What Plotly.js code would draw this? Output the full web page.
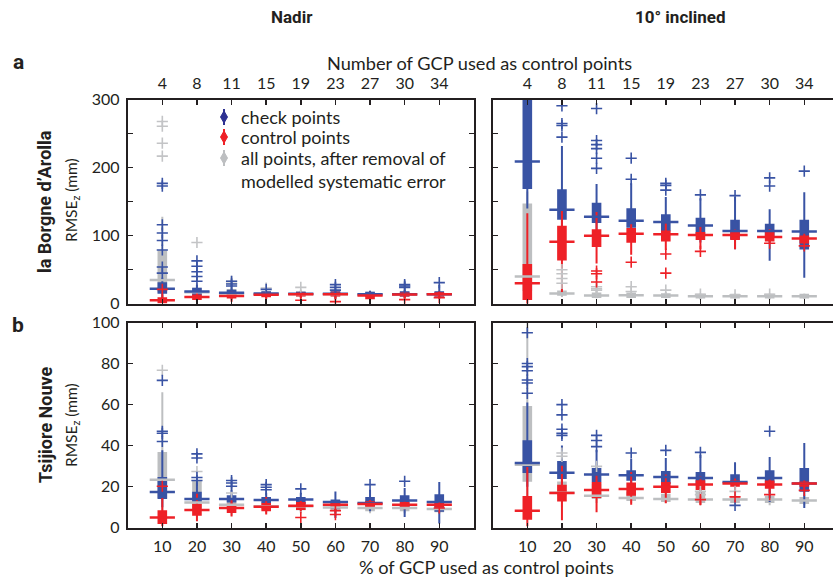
<!DOCTYPE html>
<html><head><meta charset="utf-8">
<script src="https://cdn.plot.ly/plotly-3.0.1.min.js"></script>
<style>html,body{margin:0;padding:0;overflow:hidden;background:#fff}#chart{width:845px;height:580px}</style>
</head><body><div id="chart"></div>
<script>
// ---------- DATA ----------
const categories = [10, 20, 30, 40, 50, 60, 70, 80, 90];      // % of GCP used as control points
const gcpCount = ['4', '8', '11', '15', '19', '23', '27', '30', '34']; // number of GCP used as control points

// rows: [lower whisker, q1, median, q3, upper whisker] per category
// (a) la Borgne d'Arolla, Nadir
const aNadirCheck = [[8,16,22,30,38],[8,14,18,22,28],[8,13,16,19,22],[9,13,15,17,19],[10,13,14.5,16,18],[8,13,14.5,17,20],[9,12,14,16,19],[9,12,14,17,20],[8,12,14,17,28]];
const aNadirCheckOut = [[177,173,116,104,93,79,54,45],[63,55,47,40,33],[33,29,26],[21],[],[28,24,20],[],[28,26,24],[31]];
const aNadirControl = [[0.5,2,5,8,13],[3,7,10,12,17],[3,9,11.5,14,18],[7,11,13,15,18],[8,12,14,15.5,18],[6,12,14,16,19],[4,8,12,14,16],[8,12,13.5,15,18],[8,12,14,15.5,18]];
const aNadirControlOut = [[21],[],[],[],[5],[3],[],[6],[9]];
const aNadirAll = [[2,18,35,77,128],[3,12,17,22,30],[5,12,15,20,28],[7,12,14,17,21],[7,12,14,17,21],[7,12,14,17,21],[7,12,14,16,19],[7,12,14,16,19],[7,12,14,16,19]];
const aNadirAllOut = [[268,261,236,217],[90],[33,30],[23],[24],[],[],[],[]];

// (a) la Borgne d'Arolla, 10° inclined
const aInclCheck = [[140,170,209,380,500],[95,125,138,167,232],[100,120,128,147,176],[95,113,122,139,177],[95,108,120,130,157],[90,101,115,125,155],[80,96,107,122,157],[63,98,107,116,139],[38,81,106,122,164]];
const aInclCheckOut = [[],[291,265,262,245],[287,240,234,228,214,199],[214,183],[177,174,167],[160],[159],[185,173],[195]];
const aInclControl = [[0,7,30,57,133],[17,65,91,113,137],[59,85,100,108,135],[72,91,103,110,117],[79,93,102,106,118],[80,95,101,104,113],[80,95,101,104,109],[90,93,98,106,110],[88,90,96,99,103]];
const aInclControlOut = [[],[],[48,44,32],[61],[73,45],[77],[],[89],[85]];
const aInclAll = [[5,20,40,146,165],[10,13,15,18,22],[8,10,12,15,19],[8,10,12.5,15,17],[8,10,12,14,17],[7,9,11,13,15],[7,9,11,13,15],[7,9,11,13,15],[7,9,11,13,15]];
const aInclAllOut = [[],[50,44,37,30],[25,22,20],[25,18],[20],[14],[13],[14],[]];

// (b) Tsijiore Nouve, Nadir
const bNadirCheck = [[10,14.5,17.4,24.2,37.7],[8,13,14,17,22],[10,12.8,14,15.3,18.5],[9,12.5,13.5,14.5,17],[10,12,13.7,14.5,17],[4.7,9.6,12.5,13.2,17.7],[8,10.9,12,14.5,18.5],[5.2,10.4,13.2,15.3,19.3],[2,8.3,12.5,15.8,22.3]];
const bNadirCheckOut = [[71.8,47,46,42],[36,34,24.5,23],[23,21.8,20.2],[21,19.7,18.5],[18.9],[],[21],[22.6],[]];
const bNadirControl = [[0.7,2.3,5,8,14.5],[3.1,6.3,8.6,11.2,16.6],[5.5,7.6,9.6,11.2,14.5],[6.4,8.5,10.2,11.5,15],[8,9.1,10.7,12,13],[9,10,11.2,12,13],[9.5,10.5,11.5,12.5,13.5],[9,10.5,11.2,12,13],[9,10.5,11.2,12,12.5]];
const bNadirControlOut = [[20.2],[],[],[],[5],[8.3,6.4],[],[],[9.6]];
const bNadirAll = [[3,15,23.4,36.4,66],[5,10,12.3,22.6,23],[6,9.5,11.2,13,16],[7,9.5,10.5,12,15],[7,9,10.4,12,14],[7,8.5,9.9,11.5,13],[7,8.5,9.6,11,13],[7,8.5,9.6,11,13],[7,8,9.1,10.5,12]];
const bNadirAllOut = [[76.7],[27.4],[16.9],[],[],[],[],[],[]];

// (b) Tsijiore Nouve, 10° inclined
const bInclCheck = [[20,27.1,31.5,42.1,61],[20,24.2,26.8,32,40],[18,22.6,25.9,28.6,38],[18,23.4,25.5,27.5,33.6],[17,21.8,24.7,27.2,34],[16,21.5,24.2,26.7,35.6],[14.5,22.1,22.3,25.5,31.9],[12.5,22.1,24.2,27.5,34.5],[9.6,18,21.5,28.6,41.3]];
const bInclCheckOut = [[95,80,78.5,76.5,72,70.5,65.5],[60,55,48,46,45],[45,42.5,39.5],[36.4],[37.7],[36.7],[10.9],[47],[]];
const bInclControl = [[0.7,4.4,8.3,15,29.6],[3.6,13.2,16.9,20.4,30.2],[7.5,15,18.4,21.8,26.3],[11.2,16.1,18.9,21.5,27.2],[11.9,17.4,20,21.8,25.9],[11.2,18.9,21.1,22.6,25],[18,20.5,21.5,22.5,24],[17,19.5,21,22.5,23.5],[19,20.5,21.5,22,23]];
const bInclControlOut = [[],[],[],[],[],[13.7],[15],[16.1],[18.2]];
const bInclAll = [[5,22.9,30.7,58.8,100],[10,16,17,22,28],[12,14.5,15.6,21,28],[12,13.5,14.5,17,20],[12,13,14,16,19],[11,12.5,13.7,17,20],[11,12.5,13.7,15,17.7],[11,12.5,13.7,15,17.7],[11,12,13.2,14.5,16]];
const bInclAllOut = [[],[36.4,34.8],[29.9],[],[],[17.7,16.1],[17.7],[],[]];

const seriesNames = ['check points', 'control points', 'all points, after removal of<br>modelled systematic error'];

// ---------- STYLE ----------
const BLUE = '#3953A4', RED = '#EE2127', GRAY = '#BDBFC1', GRAYOUT = '#C3C4C6', INK = '#231F20', NAVY = '#2E3192';
const FONT = 'Lato, "Open Sans", "Noto Sans", sans-serif';
const W = 845, H = 580;
const px = v => v / W, py = v => 1 - v / H;

const traces = [];
function addSeries(stats, outs, xa, ya, color, outColor, name) {
  traces.push({
    type: 'box', x: categories, xaxis: xa, yaxis: ya, name: name,
    lowerfence: stats.map(r => r[0]), q1: stats.map(r => r[1]), median: stats.map(r => r[2]),
    q3: stats.map(r => r[3]), upperfence: stats.map(r => r[4]),
    fillcolor: color, line: {color: color, width: 2}, whiskerwidth: 0, width: 2.2,
    boxpoints: false, showlegend: false, hoverinfo: 'skip'
  });
  const ox = [], oy = [];
  outs.forEach((arr, i) => arr.forEach(v => { ox.push(categories[i]); oy.push(v); }));
  traces.push({
    type: 'scatter', mode: 'markers', x: ox, y: oy, xaxis: xa, yaxis: ya, showlegend: false, hoverinfo: 'skip',
    marker: {symbol: 'cross-thin-open', size: 8, color: outColor, line: {color: outColor, width: 1.6}}
  });
  traces.push({
    type: 'scatter', mode: 'markers', x: categories, y: stats.map(r => r[2]), xaxis: xa, yaxis: ya,
    showlegend: false, hoverinfo: 'skip', cliponaxis: true,
    marker: {symbol: 'line-ew-open', size: 18, color: color, line: {color: color, width: 2.5}}
  });
}
const panels = [
  ['x3', 'y3', aNadirAll, aNadirAllOut, aNadirCheck, aNadirCheckOut, aNadirControl, aNadirControlOut],
  ['x4', 'y4', aInclAll, aInclAllOut, aInclCheck, aInclCheckOut, aInclControl, aInclControlOut],
  ['x', 'y', bNadirAll, bNadirAllOut, bNadirCheck, bNadirCheckOut, bNadirControl, bNadirControlOut],
  ['x2', 'y2', bInclAll, bInclAllOut, bInclCheck, bInclCheckOut, bInclControl, bInclControlOut]
];
panels.forEach(p => {
  addSeries(p[2], p[3], p[0], p[1], GRAY, GRAYOUT, seriesNames[2]);
  addSeries(p[4], p[5], p[0], p[1], BLUE, BLUE, seriesNames[0]);
  addSeries(p[6], p[7], p[0], p[1], RED, RED, seriesNames[1]);
});

const L = [127.7, 473.9], R = [492.7, 838.9], T = [99.7, 303.7], B = [322.5, 527.7];
function xa(dom, side, text, showLabels) {
  return {domain: [px(dom[0]), px(dom[1])], range: [0, 100], side: side, tickvals: categories, ticktext: text,
    showticklabels: showLabels, ticks: 'inside', ticklen: 5, tickwidth: 1.5, tickcolor: INK,
    showline: true, linewidth: 2, linecolor: INK, mirror: 'allticks', showgrid: false, zeroline: false,
    tickfont: {family: FONT, size: 16, color: INK}, ticklabelstandoff: side === 'top' ? 2 : 3};
}
function ya(dom, anchor, top, showLabels) {
  return {domain: [py(dom[1]), py(dom[0])], range: top ? [0, 300] : [0, 100], anchor: anchor,
    tickmode: 'linear', tick0: 0, dtick: top ? 100 : 20,
    minor: top ? {dtick: 50, tick0: 0, ticks: 'inside', ticklen: 5, tickwidth: 1.5, tickcolor: INK, showgrid: false} : undefined,
    showticklabels: showLabels, ticks: 'inside', ticklen: 5, tickwidth: 1.5,
    tickcolor: INK, showline: true, linewidth: 2, linecolor: INK, mirror: 'allticks', showgrid: false,
    zeroline: false, tickfont: {family: FONT, size: 16, color: INK}, ticklabelstandoff: 3};
}
const ann = (text, x, y, size, bold, extra) => Object.assign({
  text: bold ? '<b>' + text + '</b>' : text, xref: 'paper', yref: 'paper', x: px(x), y: py(y),
  xanchor: 'center', yanchor: 'middle', showarrow: false,
  font: {family: bold ? '"Liberation Sans Narrow", Roboto, sans-serif' : FONT, size: size, color: INK}
}, extra || {});

// legend (drawn in panel a, Nadir)
const legendRows = [[117, NAVY, seriesNames[0]], [137, RED, seriesNames[1]], [169.5, GRAY, seriesNames[2]]];
const legendGlyphY = [117, 137, 158];
const legendAnns = legendRows.map(([y, c, n]) => ann(n, 239, y, 18, false, {xanchor: 'left', align: 'left'}));
const legendShapes = [];
legendRows.forEach(([y, c], i) => {
  const gy = legendGlyphY[i], gx = 224;
  legendShapes.push({type: 'line', xref: 'paper', yref: 'paper', x0: px(gx), x1: px(gx), y0: py(gy - 8), y1: py(gy + 8),
    line: {color: c, width: 2}});
  legendShapes.push({type: 'path', xref: 'paper', yref: 'paper', fillcolor: c, line: {color: c, width: 1},
    path: `M ${px(gx)} ${py(gy - 6)} L ${px(gx + 3.5)} ${py(gy)} L ${px(gx)} ${py(gy + 6)} L ${px(gx - 3.5)} ${py(gy)} Z`});
});

const layout = {
  width: W, height: H, margin: {l: 0, r: 0, t: 0, b: 0}, paper_bgcolor: '#fff', plot_bgcolor: '#fff',
  showlegend: false, boxmode: 'overlay',
  xaxis: xa(L, 'bottom', categories.map(String), true),
  xaxis2: xa(R, 'bottom', categories.map(String), true),
  xaxis3: xa(L, 'top', gcpCount, true),
  xaxis4: xa(R, 'top', gcpCount, true),
  yaxis: ya(B, 'x', false, true),
  yaxis2: ya(B, 'x2', false, false),
  yaxis3: ya(T, 'x3', true, true),
  yaxis4: ya(T, 'x4', true, false),
  shapes: legendShapes,
  annotations: [
    ann('Nadir', 292, 17, 17, true),
    ann('10° inclined', 680, 17, 17, true),
    ann('a', 18, 62, 21, true),
    ann('b', 18, 325, 21, true),
    ann('Number of GCP used as control points', 479, 63, 18.2, false),
    ann('% of GCP used as control points', 486, 567, 18.2, false),
    ann('la Borgne d’Arolla', 45, 202, 18, true, {textangle: -90}),
    ann('RMSE<sub>z</sub> (mm)', 72, 200, 15.5, false, {textangle: -90}),
    ann('Tsijiore Nouve', 45, 425, 18, true, {textangle: -90}),
    ann('RMSE<sub>z</sub> (mm)', 72, 425, 15.5, false, {textangle: -90})
  ].concat(legendAnns)
};
layout.xaxis.anchor = 'y'; layout.xaxis2.anchor = 'y2'; layout.xaxis3.anchor = 'y3'; layout.xaxis4.anchor = 'y4';
Plotly.newPlot('chart', traces, layout, {staticPlot: true, displayModeBar: false});
</script></body></html>
